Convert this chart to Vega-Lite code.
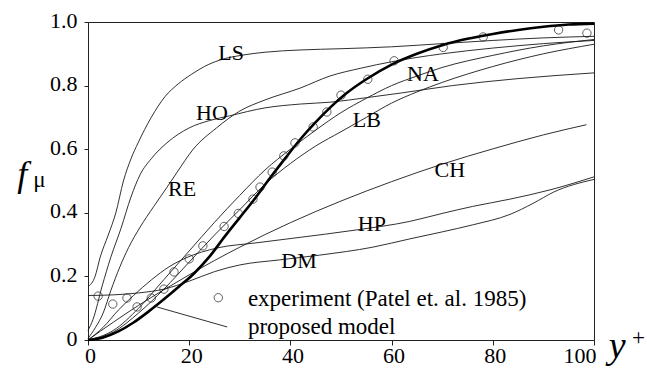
{
  "$schema": "https://vega.github.io/schema/vega-lite/v6.json",
  "width": 506,
  "height": 318,
  "autosize": {"type": "none"},
  "padding": {"left": 88, "top": 22, "right": 53, "bottom": 30},
  "background": "white",
  "config": {
    "view": {"stroke": "#222", "strokeWidth": 1},
    "axis": {
      "labelFont": "Liberation Serif",
      "labelFontSize": 22,
      "labelColor": "black",
      "domainColor": "#222",
      "tickColor": "#222",
      "grid": false,
      "title": null
    }
  },
  "datasets": {
    "curves": [
      {"m": "LS", "x": 0, "y": 0.167}, {"m": "LS", "x": 1.4, "y": 0.2}, {"m": "LS", "x": 2.4, "y": 0.26},
      {"m": "LS", "x": 4, "y": 0.33}, {"m": "LS", "x": 5.5, "y": 0.4}, {"m": "LS", "x": 7, "y": 0.5},
      {"m": "LS", "x": 8.5, "y": 0.57}, {"m": "LS", "x": 9.9, "y": 0.62}, {"m": "LS", "x": 12.5, "y": 0.7},
      {"m": "LS", "x": 15.2, "y": 0.765}, {"m": "LS", "x": 17.8, "y": 0.805}, {"m": "LS", "x": 20.5, "y": 0.836},
      {"m": "LS", "x": 23, "y": 0.86}, {"m": "LS", "x": 26, "y": 0.88}, {"m": "LS", "x": 30.6, "y": 0.896},
      {"m": "LS", "x": 35, "y": 0.905}, {"m": "LS", "x": 41.9, "y": 0.912}, {"m": "LS", "x": 50, "y": 0.916},
      {"m": "LS", "x": 60, "y": 0.922}, {"m": "LS", "x": 70, "y": 0.932}, {"m": "LS", "x": 80, "y": 0.942},
      {"m": "LS", "x": 90, "y": 0.95}, {"m": "LS", "x": 100, "y": 0.955},

      {"m": "HO", "x": 0, "y": 0.03}, {"m": "HO", "x": 1, "y": 0.065}, {"m": "HO", "x": 2.8, "y": 0.17},
      {"m": "HO", "x": 4.5, "y": 0.26}, {"m": "HO", "x": 6.5, "y": 0.35}, {"m": "HO", "x": 8.5, "y": 0.45},
      {"m": "HO", "x": 10.3, "y": 0.52}, {"m": "HO", "x": 12.5, "y": 0.57}, {"m": "HO", "x": 15.6, "y": 0.62},
      {"m": "HO", "x": 20, "y": 0.667}, {"m": "HO", "x": 24, "y": 0.69}, {"m": "HO", "x": 28, "y": 0.705},
      {"m": "HO", "x": 35, "y": 0.73}, {"m": "HO", "x": 42, "y": 0.742}, {"m": "HO", "x": 48, "y": 0.748},
      {"m": "HO", "x": 55, "y": 0.762}, {"m": "HO", "x": 62, "y": 0.777}, {"m": "HO", "x": 72, "y": 0.8},
      {"m": "HO", "x": 85, "y": 0.822}, {"m": "HO", "x": 100, "y": 0.84},

      {"m": "RE", "x": 0, "y": 0.005}, {"m": "RE", "x": 1.5, "y": 0.04}, {"m": "RE", "x": 3, "y": 0.085},
      {"m": "RE", "x": 4.5, "y": 0.155}, {"m": "RE", "x": 6.3, "y": 0.23}, {"m": "RE", "x": 8, "y": 0.29},
      {"m": "RE", "x": 10.3, "y": 0.355}, {"m": "RE", "x": 13, "y": 0.42}, {"m": "RE", "x": 15.6, "y": 0.48},
      {"m": "RE", "x": 17.5, "y": 0.525}, {"m": "RE", "x": 20.8, "y": 0.6}, {"m": "RE", "x": 25.4, "y": 0.667},
      {"m": "RE", "x": 30, "y": 0.72}, {"m": "RE", "x": 35, "y": 0.755}, {"m": "RE", "x": 41.9, "y": 0.792},
      {"m": "RE", "x": 47.8, "y": 0.83}, {"m": "RE", "x": 54, "y": 0.855}, {"m": "RE", "x": 60, "y": 0.875},
      {"m": "RE", "x": 70, "y": 0.9}, {"m": "RE", "x": 80, "y": 0.918}, {"m": "RE", "x": 90, "y": 0.932},
      {"m": "RE", "x": 100, "y": 0.942},

      {"m": "NA", "x": 0, "y": 0}, {"m": "NA", "x": 5, "y": 0.03}, {"m": "NA", "x": 10, "y": 0.1},
      {"m": "NA", "x": 15, "y": 0.19}, {"m": "NA", "x": 20, "y": 0.28}, {"m": "NA", "x": 25, "y": 0.37},
      {"m": "NA", "x": 30, "y": 0.455}, {"m": "NA", "x": 35, "y": 0.535}, {"m": "NA", "x": 40, "y": 0.6},
      {"m": "NA", "x": 45, "y": 0.66}, {"m": "NA", "x": 50, "y": 0.715}, {"m": "NA", "x": 55, "y": 0.76},
      {"m": "NA", "x": 60, "y": 0.8}, {"m": "NA", "x": 65, "y": 0.83}, {"m": "NA", "x": 70, "y": 0.857},
      {"m": "NA", "x": 80, "y": 0.895}, {"m": "NA", "x": 90, "y": 0.925}, {"m": "NA", "x": 100, "y": 0.945},

      {"m": "LB", "x": 0, "y": 0}, {"m": "LB", "x": 5, "y": 0.025}, {"m": "LB", "x": 10, "y": 0.085},
      {"m": "LB", "x": 15, "y": 0.16}, {"m": "LB", "x": 20, "y": 0.245}, {"m": "LB", "x": 25, "y": 0.33},
      {"m": "LB", "x": 30, "y": 0.41}, {"m": "LB", "x": 35, "y": 0.49}, {"m": "LB", "x": 40, "y": 0.555},
      {"m": "LB", "x": 45, "y": 0.61}, {"m": "LB", "x": 50, "y": 0.655}, {"m": "LB", "x": 55, "y": 0.7},
      {"m": "LB", "x": 60, "y": 0.745}, {"m": "LB", "x": 65, "y": 0.78}, {"m": "LB", "x": 70, "y": 0.81},
      {"m": "LB", "x": 80, "y": 0.86}, {"m": "LB", "x": 90, "y": 0.9}, {"m": "LB", "x": 100, "y": 0.93},

      {"m": "CH", "x": 0, "y": 0}, {"m": "CH", "x": 5, "y": 0.056}, {"m": "CH", "x": 10, "y": 0.109},
      {"m": "CH", "x": 15, "y": 0.158}, {"m": "CH", "x": 20, "y": 0.205}, {"m": "CH", "x": 25, "y": 0.25},
      {"m": "CH", "x": 30, "y": 0.292}, {"m": "CH", "x": 40, "y": 0.369}, {"m": "CH", "x": 50, "y": 0.437},
      {"m": "CH", "x": 60, "y": 0.498}, {"m": "CH", "x": 70, "y": 0.553}, {"m": "CH", "x": 80, "y": 0.601},
      {"m": "CH", "x": 90, "y": 0.645}, {"m": "CH", "x": 98.5, "y": 0.677},

      {"m": "HP", "x": 0, "y": 0}, {"m": "HP", "x": 3, "y": 0.04}, {"m": "HP", "x": 6, "y": 0.094},
      {"m": "HP", "x": 9, "y": 0.14}, {"m": "HP", "x": 12.6, "y": 0.19}, {"m": "HP", "x": 16, "y": 0.23},
      {"m": "HP", "x": 19.2, "y": 0.257}, {"m": "HP", "x": 25.7, "y": 0.29}, {"m": "HP", "x": 33, "y": 0.305},
      {"m": "HP", "x": 40.5, "y": 0.32}, {"m": "HP", "x": 53, "y": 0.346}, {"m": "HP", "x": 63.6, "y": 0.373},
      {"m": "HP", "x": 70, "y": 0.398}, {"m": "HP", "x": 76, "y": 0.42}, {"m": "HP", "x": 83.4, "y": 0.443},
      {"m": "HP", "x": 91.3, "y": 0.472}, {"m": "HP", "x": 100, "y": 0.513},

      {"m": "DM", "x": 0, "y": 0.14}, {"m": "DM", "x": 5, "y": 0.142}, {"m": "DM", "x": 10, "y": 0.148},
      {"m": "DM", "x": 15, "y": 0.16}, {"m": "DM", "x": 20, "y": 0.185}, {"m": "DM", "x": 25, "y": 0.215},
      {"m": "DM", "x": 30, "y": 0.236}, {"m": "DM", "x": 37.9, "y": 0.252}, {"m": "DM", "x": 45.8, "y": 0.267},
      {"m": "DM", "x": 56.3, "y": 0.292}, {"m": "DM", "x": 63.6, "y": 0.318}, {"m": "DM", "x": 70, "y": 0.34},
      {"m": "DM", "x": 76, "y": 0.362}, {"m": "DM", "x": 83.4, "y": 0.395}, {"m": "DM", "x": 88, "y": 0.43},
      {"m": "DM", "x": 92, "y": 0.465}, {"m": "DM", "x": 100, "y": 0.505}
    ],
    "model": [
      {"x": 0, "y": 0}, {"x": 3, "y": 0.008}, {"x": 6, "y": 0.027}, {"x": 9, "y": 0.055},
      {"x": 12, "y": 0.09}, {"x": 15, "y": 0.128}, {"x": 18, "y": 0.168}, {"x": 21, "y": 0.21},
      {"x": 24, "y": 0.262}, {"x": 27, "y": 0.325}, {"x": 30, "y": 0.385}, {"x": 33, "y": 0.445},
      {"x": 36, "y": 0.51}, {"x": 39, "y": 0.572}, {"x": 42, "y": 0.632}, {"x": 45, "y": 0.685},
      {"x": 48, "y": 0.733}, {"x": 51, "y": 0.775}, {"x": 55, "y": 0.82}, {"x": 60, "y": 0.866},
      {"x": 65, "y": 0.9}, {"x": 70, "y": 0.927}, {"x": 75, "y": 0.947}, {"x": 80, "y": 0.962},
      {"x": 85, "y": 0.975}, {"x": 90, "y": 0.985}, {"x": 95, "y": 0.992}, {"x": 100, "y": 0.995}
    ],
    "experiment": [
      {"x": 2.0, "y": 0.138}, {"x": 4.9, "y": 0.113}, {"x": 7.7, "y": 0.132}, {"x": 9.7, "y": 0.104},
      {"x": 12.5, "y": 0.132}, {"x": 15.0, "y": 0.16}, {"x": 17.0, "y": 0.214}, {"x": 20.0, "y": 0.255},
      {"x": 22.7, "y": 0.296}, {"x": 26.9, "y": 0.357}, {"x": 29.7, "y": 0.398}, {"x": 32.6, "y": 0.443},
      {"x": 34.0, "y": 0.481}, {"x": 36.4, "y": 0.528}, {"x": 38.7, "y": 0.579}, {"x": 40.9, "y": 0.62},
      {"x": 44.5, "y": 0.67}, {"x": 47.2, "y": 0.717}, {"x": 50.0, "y": 0.77}, {"x": 55.3, "y": 0.82},
      {"x": 60.5, "y": 0.878}, {"x": 70.2, "y": 0.92}, {"x": 78.1, "y": 0.953}, {"x": 93.0, "y": 0.975},
      {"x": 98.6, "y": 0.965}
    ],
    "curveLabels": [
      {"t": "LS", "x": 28.3, "y": 0.903}, {"t": "HO", "x": 24.5, "y": 0.714},
      {"t": "RE", "x": 18.6, "y": 0.475}, {"t": "NA", "x": 66.2, "y": 0.836},
      {"t": "LB", "x": 55.1, "y": 0.692}, {"t": "CH", "x": 71.5, "y": 0.535},
      {"t": "HP", "x": 56.1, "y": 0.365}, {"t": "DM", "x": 41.7, "y": 0.25}
    ],
    "legendText": [
      {"t": "experiment (Patel et. al. 1985)", "x": 31.6, "y": 0.107},
      {"t": "proposed model", "x": 31.6, "y": 0.019}
    ],
    "legendMarker": [{"x": 25.75, "y": 0.133}],
    "leader": [{"x": 13.6, "y": 0.104}, {"x": 27.5, "y": 0.041}]
  },
  "layer": [
    {
      "data": {"name": "curves"},
      "mark": {"type": "line", "interpolate": "monotone", "stroke": "#1a1a1a", "strokeWidth": 0.9},
      "encoding": {
        "x": {
          "field": "x", "type": "quantitative",
          "scale": {"domain": [0, 100], "nice": false, "zero": false},
          "axis": {
            "values": [0, 20, 40, 60, 80, 100],
            "tickSize": 5,
            "labelPadding": 0,
            "labelOffset": 2,
            "labelAlign": {"condition": {"test": "datum.value == 100", "value": "right"}, "value": "center"}
          }
        },
        "y": {
          "field": "y", "type": "quantitative",
          "scale": {"domain": [0, 1], "nice": false, "zero": false},
          "axis": {
            "values": [0, 0.2, 0.4, 0.6, 0.8, 1.0],
            "labelExpr": "datum.value == 0 ? '0' : format(datum.value, '.1f')",
            "tickSize": 4,
            "labelPadding": 7,
            "labelOffset": -2
          }
        },
        "detail": {"field": "m", "type": "nominal"}
      }
    },
    {
      "data": {"name": "model"},
      "mark": {"type": "line", "interpolate": "monotone", "stroke": "black", "strokeWidth": 2.6},
      "encoding": {
        "x": {"field": "x", "type": "quantitative"},
        "y": {"field": "y", "type": "quantitative"}
      }
    },
    {
      "data": {"name": "experiment"},
      "mark": {"type": "point", "shape": "circle", "filled": false, "size": 70, "stroke": "#1a1a1a", "strokeWidth": 1},
      "encoding": {
        "x": {"field": "x", "type": "quantitative"},
        "y": {"field": "y", "type": "quantitative"}
      }
    },
    {
      "data": {"name": "curveLabels"},
      "mark": {"type": "text", "font": "Liberation Serif", "fontSize": 22, "color": "black", "align": "center", "baseline": "middle"},
      "encoding": {
        "x": {"field": "x", "type": "quantitative"},
        "y": {"field": "y", "type": "quantitative"},
        "text": {"field": "t"}
      }
    },
    {
      "data": {"name": "legendMarker"},
      "mark": {"type": "point", "shape": "circle", "filled": false, "size": 70, "stroke": "#1a1a1a", "strokeWidth": 1},
      "encoding": {
        "x": {"field": "x", "type": "quantitative"},
        "y": {"field": "y", "type": "quantitative"}
      }
    },
    {
      "data": {"name": "leader"},
      "mark": {"type": "line", "stroke": "#1a1a1a", "strokeWidth": 0.9},
      "encoding": {
        "x": {"field": "x", "type": "quantitative"},
        "y": {"field": "y", "type": "quantitative"}
      }
    },
    {
      "data": {"name": "legendText"},
      "mark": {"type": "text", "font": "Liberation Serif", "fontSize": 23, "color": "black", "align": "left", "baseline": "alphabetic"},
      "encoding": {
        "x": {"field": "x", "type": "quantitative"},
        "y": {"field": "y", "type": "quantitative"},
        "text": {"field": "t"}
      }
    },
    {
      "data": {"values": [{"t": "f", "x": -13.0, "y": 0.484}]},
      "mark": {"type": "text", "font": "Liberation Serif", "fontSize": 36, "fontStyle": "italic", "color": "black", "align": "center", "baseline": "alphabetic"},
      "encoding": {
        "x": {"field": "x", "type": "quantitative"},
        "y": {"field": "y", "type": "quantitative"},
        "text": {"field": "t"}
      }
    },
    {
      "data": {"values": [{"t": "μ", "x": -9.6, "y": 0.481}]},
      "mark": {"type": "text", "font": "Liberation Serif", "fontSize": 23, "color": "black", "align": "center", "baseline": "alphabetic"},
      "encoding": {
        "x": {"field": "x", "type": "quantitative"},
        "y": {"field": "y", "type": "quantitative"},
        "text": {"field": "t"}
      }
    },
    {
      "data": {"values": [{"t": "y", "x": 104.6, "y": -0.057}]},
      "mark": {"type": "text", "font": "Liberation Serif", "fontSize": 38, "fontStyle": "italic", "color": "black", "align": "center", "baseline": "alphabetic"},
      "encoding": {
        "x": {"field": "x", "type": "quantitative"},
        "y": {"field": "y", "type": "quantitative"},
        "text": {"field": "t"}
      }
    },
    {
      "data": {"values": [{"t": "+", "x": 108.8, "y": 0.006}]},
      "mark": {"type": "text", "font": "Liberation Serif", "fontSize": 23, "color": "black", "align": "center", "baseline": "middle"},
      "encoding": {
        "x": {"field": "x", "type": "quantitative"},
        "y": {"field": "y", "type": "quantitative"},
        "text": {"field": "t"}
      }
    }
  ]
}
